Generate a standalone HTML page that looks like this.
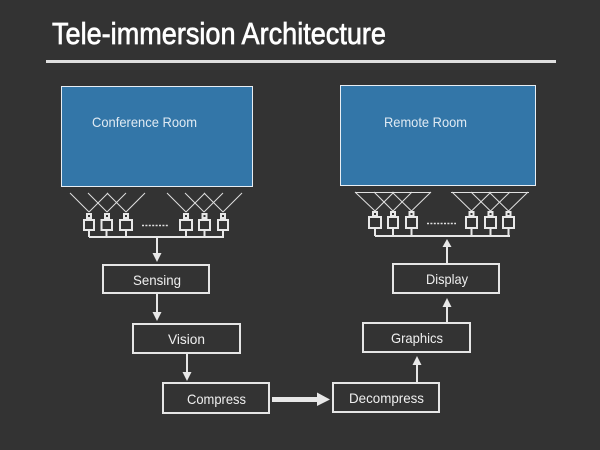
<!DOCTYPE html>
<html>
<head>
<meta charset="utf-8">
<style>
  html, body { margin: 0; padding: 0; background: #333333; }
  svg { display: block; }
  text { font-family: "Liberation Sans", Arial, sans-serif; }
</style>
</head>
<body>
<svg width="600" height="450" viewBox="0 0 600 450" xmlns="http://www.w3.org/2000/svg">
  <rect x="0" y="0" width="600" height="450" fill="#333333"/>

  <!-- Title -->
  <text x="52" y="44" font-size="31" fill="#ffffff" stroke="#ffffff" stroke-width="0.7" textLength="334" lengthAdjust="spacingAndGlyphs">Tele-immersion Architecture</text>
  <rect x="46" y="60" width="510" height="3" fill="#e0e0e0"/>

  <!-- Rooms -->
  <rect x="61.5" y="86.5" width="191" height="100" fill="#3376a8" stroke="#e8eef4" stroke-width="1"/>
  <text x="92" y="127" font-size="14" fill="#dfeaf3" textLength="105" lengthAdjust="spacingAndGlyphs">Conference Room</text>

  <rect x="340.5" y="85.5" width="195" height="100" fill="#3376a8" stroke="#e8eef4" stroke-width="1"/>
  <text x="384" y="127" font-size="14" fill="#dfeaf3" textLength="83" lengthAdjust="spacingAndGlyphs">Remote Room</text>

  <!-- Left cameras rays -->
  <g stroke="#e0e0e0" stroke-width="1" fill="none">
    <line x1="89" y1="212" x2="70" y2="193"/>
    <line x1="89" y1="212" x2="108" y2="193"/>
    <line x1="107" y1="212" x2="88" y2="193"/>
    <line x1="107" y1="212" x2="126" y2="193"/>
    <line x1="126" y1="212" x2="107" y2="193"/>
    <line x1="126" y1="212" x2="145" y2="193"/>
    <line x1="186" y1="212" x2="167" y2="193"/>
    <line x1="186" y1="212" x2="205" y2="193"/>
    <line x1="204" y1="212" x2="185" y2="193"/>
    <line x1="204" y1="212" x2="223" y2="193"/>
    <line x1="223" y1="212" x2="204" y2="193"/>
    <line x1="223" y1="212" x2="242" y2="193"/>

    <!-- Right room rays -->
    <line x1="355" y1="192.5" x2="431" y2="192.5"/>
    <line x1="451" y1="192.5" x2="529" y2="192.5"/>
    <line x1="375" y1="211" x2="355" y2="192"/>
    <line x1="375" y1="211" x2="394" y2="192"/>
    <line x1="393" y1="211" x2="374" y2="192"/>
    <line x1="393" y1="211" x2="412" y2="192"/>
    <line x1="411.5" y1="211" x2="392" y2="192"/>
    <line x1="411.5" y1="211" x2="431" y2="192"/>
    <line x1="471.5" y1="211" x2="452" y2="192"/>
    <line x1="471.5" y1="211" x2="491" y2="192"/>
    <line x1="490.5" y1="211" x2="471" y2="192"/>
    <line x1="490.5" y1="211" x2="510" y2="192"/>
    <line x1="508.5" y1="211" x2="489" y2="192"/>
    <line x1="508.5" y1="211" x2="528" y2="192"/>
  </g>

  <!-- Left cameras -->
  <g stroke="#e8e8e8" stroke-width="2" fill="none">
    <rect x="87" y="214" width="4" height="4"/>
    <rect x="84" y="220" width="10" height="10"/>
    <rect x="105" y="214" width="4" height="4"/>
    <rect x="101.5" y="220" width="10.5" height="10"/>
    <rect x="124" y="214" width="4" height="4"/>
    <rect x="120" y="220" width="12" height="10"/>
    <rect x="184" y="214" width="4" height="4"/>
    <rect x="180" y="220" width="12" height="10"/>
    <rect x="202.5" y="214" width="4" height="4"/>
    <rect x="199" y="220" width="11" height="10"/>
    <rect x="221" y="214" width="4" height="4"/>
    <rect x="218" y="220" width="10" height="10"/>
    <path d="M89 231 V237 M106.5 231 V237 M126 231 V237 M186 231 V237 M204.5 231 V237 M223 231 V237"/>
    <path d="M89 237 H224"/>
    <path d="M157 237 V254"/>
  </g>
  <polygon points="152.5,253 161.5,253 157,262" fill="#e8e8e8"/>
  <line x1="142" y1="225.5" x2="169" y2="225.5" stroke="#e0e0e0" stroke-width="1.5" stroke-dasharray="2 1.4"/>

  <!-- Right cameras -->
  <g stroke="#e8e8e8" stroke-width="2" fill="none">
    <rect x="373" y="212" width="4" height="4"/>
    <rect x="369" y="217" width="12" height="11"/>
    <rect x="391" y="212" width="4" height="4"/>
    <rect x="388" y="217" width="10" height="11"/>
    <rect x="409.5" y="212" width="4" height="4"/>
    <rect x="406" y="217" width="11" height="11"/>
    <rect x="469.5" y="212" width="4" height="4"/>
    <rect x="466" y="217" width="11" height="11"/>
    <rect x="488.5" y="212" width="4" height="4"/>
    <rect x="485" y="217" width="11" height="11"/>
    <rect x="506.5" y="212" width="4" height="4"/>
    <rect x="503" y="217" width="11" height="11"/>
    <path d="M375 229 V236 M393 229 V236 M411.5 229 V236 M471.5 229 V236 M490.5 229 V236 M508.5 229 V236"/>
    <path d="M375 236 H510"/>
    <path d="M447 246 V264"/>
  </g>
  <polygon points="442.5,247 451.5,247 447,239" fill="#e8e8e8"/>
  <line x1="427" y1="223.5" x2="456" y2="223.5" stroke="#e0e0e0" stroke-width="1.5" stroke-dasharray="2 1.4"/>

  <!-- Boxes -->
  <g stroke="#e6e6e6" stroke-width="2" fill="none">
    <rect x="103" y="265" width="106" height="28"/>
    <rect x="133" y="324" width="107" height="29"/>
    <rect x="163" y="383" width="106" height="30"/>
    <rect x="333" y="383" width="106" height="29"/>
    <rect x="363" y="323" width="107" height="29"/>
    <rect x="393" y="264" width="106" height="29"/>
    <path d="M157 294 V313"/>
    <path d="M187 354 V373"/>
    <path d="M417 382 V364"/>
    <path d="M447 322 V306"/>
  </g>
  <polygon points="152.5,312 161.5,312 157,321" fill="#e8e8e8"/>
  <polygon points="182.5,372 191.5,372 187,381" fill="#e8e8e8"/>
  <polygon points="412.5,365 421.5,365 417,356" fill="#e8e8e8"/>
  <polygon points="442.5,307 451.5,307 447,298" fill="#e8e8e8"/>

  <!-- Thick arrow Compress -> Decompress -->
  <rect x="272" y="397" width="46" height="5" fill="#e8e8e8"/>
  <polygon points="317,392.5 317,406 330,399.5" fill="#e8e8e8"/>

  <!-- Box labels -->
  <g font-size="14" fill="#efefef">
    <text x="133" y="285" textLength="48" lengthAdjust="spacingAndGlyphs">Sensing</text>
    <text x="168" y="344" textLength="37" lengthAdjust="spacingAndGlyphs">Vision</text>
    <text x="187" y="404" textLength="59" lengthAdjust="spacingAndGlyphs">Compress</text>
    <text x="349" y="403" textLength="75" lengthAdjust="spacingAndGlyphs">Decompress</text>
    <text x="391" y="343" textLength="52" lengthAdjust="spacingAndGlyphs">Graphics</text>
    <text x="426" y="284" textLength="42" lengthAdjust="spacingAndGlyphs">Display</text>
  </g>
</svg>
</body>
</html>
